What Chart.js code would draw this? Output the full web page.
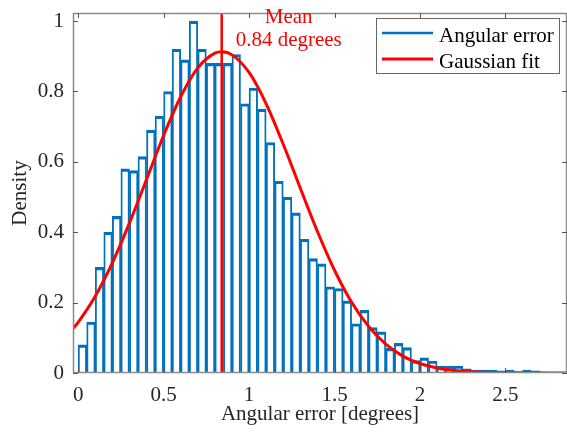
<!DOCTYPE html>
<html>
<head>
<meta charset="utf-8">
<script src="https://cdn.jsdelivr.net/npm/chart.js@4.4.0/dist/chart.umd.min.js"></script>
<style>
  body { margin: 0; background: #fff; }
  #wrap { width: 567px; height: 441px; }
</style>
</head>
<body>
<div id="wrap"><canvas id="myChart" width="567" height="441"></canvas></div>
<script>
// histogram: bins of 0.05 starting at 0
var binStart = 0;
var binWidth = 0.05;
var density = [0.08, 0.145, 0.30, 0.40, 0.445, 0.58, 0.575, 0.615, 0.69, 0.73,
               0.80, 0.92, 0.89, 1.0, 0.92, 0.88, 0.88, 0.88, 0.905, 0.765,
               0.81, 0.75, 0.655, 0.545, 0.50, 0.455, 0.38, 0.325, 0.31, 0.245,
               0.24, 0.205, 0.14, 0.178, 0.129, 0.117, 0.07, 0.084, 0.072, 0.035,
               0.043, 0.034, 0.02, 0.02, 0.02, 0.012, 0.008, 0.008, 0.008, 0.006,
               0.008, 0.004, 0.008, 0.006, 0.003];

// gaussian fit curve
var fitX = [-0.03, 0, 0.1, 0.2, 0.3, 0.4, 0.5, 0.6, 0.7, 0.8, 0.84, 0.9, 1.0, 1.1, 1.2,
            1.3, 1.4, 1.5, 1.6, 1.7, 1.8, 1.9, 2.0, 2.1, 2.2, 2.3, 2.4, 2.5, 2.6, 2.7, 2.86];
var fitY = [0.126, 0.144, 0.218, 0.313, 0.426, 0.55, 0.675, 0.785, 0.867, 0.909, 0.913, 0.904, 0.854, 0.765, 0.65,
            0.525, 0.402, 0.292, 0.201, 0.132, 0.082, 0.048, 0.027, 0.014, 0.007, 0.0035, 0.0016, 0.0007, 0.0003, 0.0001, 0];

var meanValue = 0.84;
var meanLabel = ['Mean', '0.84 degrees'];

var xTicks = [0, 0.5, 1, 1.5, 2, 2.5];
var yTicks = [0, 0.2, 0.4, 0.6, 0.8, 1];
var xMin = -0.03, xMax = 2.86;
var yMin = 0, yMax = 1.023;

var blue = '#0072BD';
var red = '#FF0000';
var serif = '"Liberation Serif", "Times New Roman", serif';

Chart.defaults.font.family = serif;
Chart.defaults.font.size = 21;
Chart.defaults.color = '#262626';

var histData = density.map(function (d, i) {
  return { x: binStart + binWidth * (i + 0.5), y: d };
});
var fitData = fitX.map(function (v, i) { return { x: v, y: fitY[i] }; });

// box, inward ticks, mean text and boxed legend (matlab look)
var matlabLook = {
  id: 'matlabLook',
  afterDatasetsDraw: function (chart) {
    var ctx = chart.ctx, a = chart.chartArea;
    var x = chart.scales.x, y = chart.scales.y;
    ctx.save();
    ctx.strokeStyle = '#8c8c8c';
    ctx.lineWidth = 1.5;
    ctx.strokeRect(a.left + 0.5, a.top + 0.5, a.right - a.left - 1, a.bottom - a.top - 1);
    ctx.lineWidth = 1;
    ctx.strokeStyle = '#555';
    ctx.beginPath();
    xTicks.forEach(function (v) {
      var px = Math.round(x.getPixelForValue(v)) + 0.5;
      ctx.moveTo(px, a.bottom); ctx.lineTo(px, a.bottom - 5);
      ctx.moveTo(px, a.top); ctx.lineTo(px, a.top + 5);
    });
    yTicks.forEach(function (v) {
      var py = Math.round(y.getPixelForValue(v)) + 0.5;
      ctx.moveTo(a.left, py); ctx.lineTo(a.left + 5, py);
      ctx.moveTo(a.right, py); ctx.lineTo(a.right - 5, py);
    });
    ctx.stroke();

    // mean annotation
    var mx = x.getPixelForValue(meanValue) + 67;
    ctx.fillStyle = red;
    ctx.font = '21px ' + serif;
    ctx.textAlign = 'center';
    ctx.textBaseline = 'alphabetic';
    ctx.fillText(meanLabel[0], mx, 22.5);
    ctx.fillText(meanLabel[1], mx, 46);

    // legend
    ctx.fillStyle = '#fff';
    ctx.fillRect(376.5, 18.5, 183, 55);
    ctx.strokeStyle = '#666';
    ctx.lineWidth = 1;
    ctx.strokeRect(376.5, 18.5, 183, 55);
    var items = [chart.data.datasets[2], chart.data.datasets[0]];
    var rows = [33, 59];
    items.forEach(function (ds, i) {
      ctx.strokeStyle = ds.borderColor;
      ctx.lineWidth = i === 0 ? 2.5 : 3;
      ctx.beginPath();
      ctx.moveTo(382, rows[i]); ctx.lineTo(433, rows[i]);
      ctx.stroke();
      ctx.fillStyle = '#000';
      ctx.textAlign = 'left';
      ctx.fillText(ds.label, 439, rows[i] + 8.5);
    });
    ctx.restore();
  }
};

var ctx = document.getElementById('myChart').getContext('2d');
var myChart = new Chart(ctx, {
  type: 'bar',
  data: {
    datasets: [{
      type: 'line',
      label: 'Gaussian fit',
      data: fitData,
      borderColor: red,
      borderWidth: 3,
      pointRadius: 0,
      cubicInterpolationMode: 'monotone',
      order: 0
    }, {
      type: 'line',
      label: 'Mean',
      data: [{ x: meanValue, y: yMin }, { x: meanValue, y: yMax }],
      borderColor: red,
      borderWidth: 2.5,
      pointRadius: 0,
      order: 1
    }, {
      type: 'bar',
      label: 'Angular error',
      data: histData,
      backgroundColor: 'rgba(255,255,255,0)',
      borderColor: blue,
      borderWidth: { top: 2.5, left: 1.25, right: 1.25, bottom: 0 },
      borderSkipped: 'start',
      categoryPercentage: 1,
      barPercentage: 1,
      order: 2
    }]
  },
  options: {
    responsive: false,
    animation: false,
    layout: { padding: { top: 13, right: 0, bottom: 0, left: 0 } },
    plugins: {
      legend: { display: false },
      tooltip: { enabled: false }
    },
    scales: {
      x: {
        type: 'linear',
        offset: false,
        min: xMin,
        max: xMax,
        grid: { display: false, drawTicks: false },
        border: { display: false },
        afterBuildTicks: function (scale) {
          scale.ticks = xTicks.map(function (v) { return { value: v }; });
        },
        afterFit: function (scale) {
          scale.height = 68;
          scale.paddingLeft = 0;
          scale.paddingRight = 0;
        },
        ticks: {
          padding: 10,
          maxRotation: 0,
          autoSkip: false,
          callback: function (v) { return String(v); }
        },
        title: {
          display: true,
          text: 'Angular error [degrees]',
          color: '#262626',
          padding: { top: 0, bottom: 14 }
        }
      },
      y: {
        min: yMin,
        max: yMax,
        grid: { display: false, drawTicks: false },
        border: { display: false },
        afterBuildTicks: function (scale) {
          scale.ticks = yTicks.map(function (v) { return { value: v }; });
        },
        afterFit: function (scale) {
          scale.width = 73;
          scale.paddingTop = 0;
          scale.paddingBottom = 0;
        },
        ticks: {
          padding: 9,
          autoSkip: false,
          callback: function (v) { return String(v); }
        },
        title: {
          display: true,
          text: 'Density',
          color: '#262626',
          padding: { top: 8, bottom: 0 }
        }
      }
    }
  },
  plugins: [matlabLook]
});
</script>
</body>
</html>
